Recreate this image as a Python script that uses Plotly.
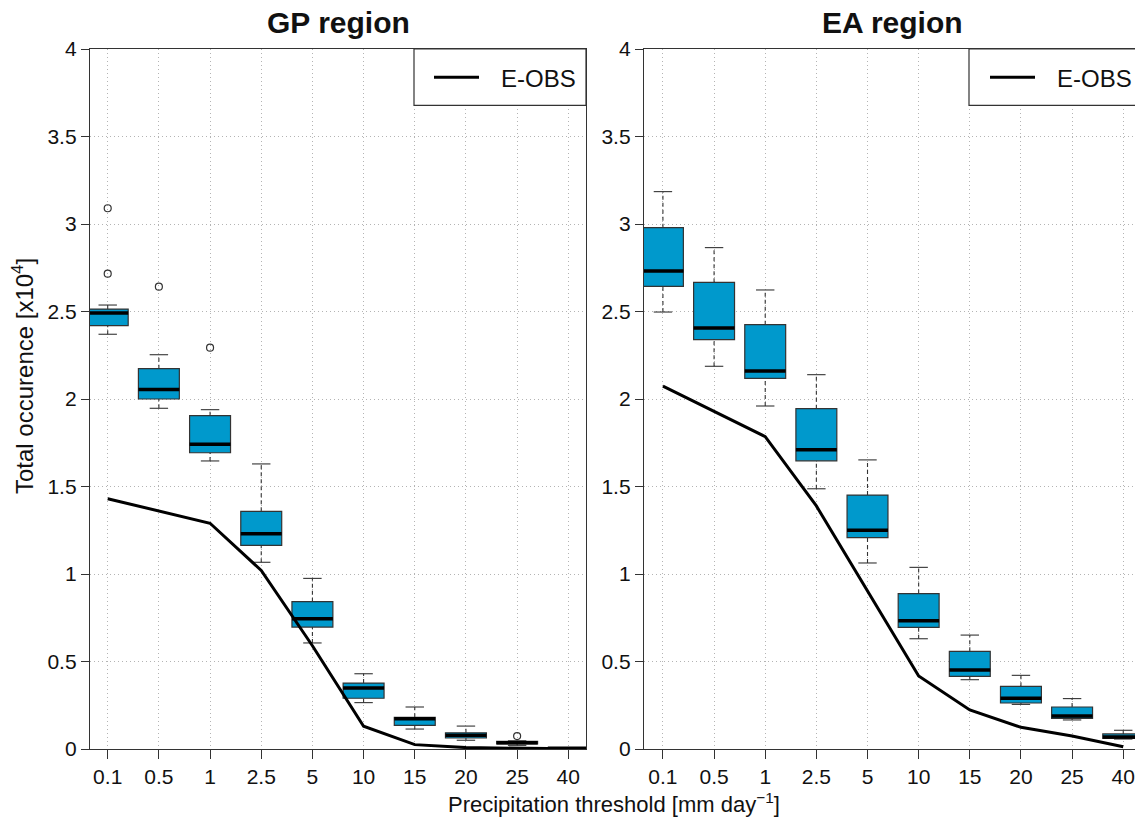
import plotly.graph_objects as go

thresholds = ["0.1", "0.5", "1", "2.5", "5", "10", "15", "20", "25", "40"]

# GP region (values x10^4)
gp_lower = [2.370, 1.947, 1.646, 1.067, 0.606, 0.265, 0.114, 0.050, 0.021, 0.002]
gp_q1 = [2.419, 2.000, 1.693, 1.164, 0.697, 0.290, 0.135, 0.063, 0.029, 0.003]
gp_med = [2.491, 2.055, 1.741, 1.230, 0.745, 0.349, 0.173, 0.078, 0.036, 0.004]
gp_q3 = [2.514, 2.173, 1.905, 1.358, 0.842, 0.377, 0.181, 0.093, 0.044, 0.005]
gp_upper = [2.537, 2.253, 1.939, 1.629, 0.975, 0.430, 0.240, 0.131, 0.047, 0.007]
gp_out_cat = ["0.1", "0.1", "0.5", "1", "25"]
gp_out_val = [3.090, 2.716, 2.642, 2.293, 0.074]
gp_eobs = [1.430, 1.360, 1.290, 1.020, 0.590, 0.130, 0.025, 0.008, 0.003, 0.001]

# EA region (values x10^4)
ea_lower = [2.497, 2.187, 1.960, 1.487, 1.063, 0.630, 0.396, 0.255, 0.166, 0.057]
ea_q1 = [2.644, 2.339, 2.118, 1.647, 1.208, 0.695, 0.415, 0.263, 0.175, 0.061]
ea_med = [2.731, 2.406, 2.160, 1.710, 1.250, 0.733, 0.451, 0.290, 0.189, 0.069]
ea_q3 = [2.979, 2.667, 2.425, 1.945, 1.451, 0.888, 0.558, 0.358, 0.240, 0.086]
ea_upper = [3.185, 2.865, 2.623, 2.139, 1.652, 1.038, 0.651, 0.421, 0.288, 0.107]
ea_out_cat = []
ea_out_val = []
ea_eobs = [2.074, 1.930, 1.785, 1.389, 0.900, 0.417, 0.223, 0.124, 0.074, 0.013]

BOX_FILL = "#0099CC"
EDGE = "#333333"
TXT = "#111111"
FONT = "Liberation Sans, Arial, sans-serif"
BW = 0.8      # box width (category units)
CAP = 0.18    # half width of whisker caps

fig = go.Figure()


def add_panel(lower, q1, med, q3, upper, out_cat, out_val, eobs, xa, ya):
    pos = list(range(len(thresholds)))
    fig.add_trace(go.Box(
        x=pos, q1=q1, median=med, q3=q3, lowerfence=q1, upperfence=q3,
        width=BW, fillcolor=BOX_FILL, line=dict(color=EDGE, width=1.2),
        whiskerwidth=0, boxpoints=False, showlegend=False,
        xaxis=xa, yaxis=ya, hoverinfo="skip"))
    # dashed whiskers
    wx, wy = [], []
    for p, lo, a, b, hi in zip(pos, lower, q1, q3, upper):
        wx += [p, p, None, p, p, None]
        wy += [b, hi, None, lo, a, None]
    fig.add_trace(go.Scatter(x=wx, y=wy, mode="lines",
                             line=dict(color=EDGE, width=1.1, dash="4px,3px"),
                             showlegend=False, xaxis=xa, yaxis=ya, hoverinfo="skip"))
    # caps
    cx, cy = [], []
    for p, lo, hi in zip(pos, lower, upper):
        cx += [p - CAP, p + CAP, None, p - CAP, p + CAP, None]
        cy += [hi, hi, None, lo, lo, None]
    fig.add_trace(go.Scatter(x=cx, y=cy, mode="lines",
                             line=dict(color=EDGE, width=1.1),
                             showlegend=False, xaxis=xa, yaxis=ya, hoverinfo="skip"))
    # thick medians
    mx, my = [], []
    for p, m in zip(pos, med):
        mx += [p - BW / 2, p + BW / 2, None]
        my += [m, m, None]
    fig.add_trace(go.Scatter(x=mx, y=my, mode="lines",
                             line=dict(color="#000000", width=3.5),
                             showlegend=False, xaxis=xa, yaxis=ya, hoverinfo="skip"))
    # outliers
    if out_cat:
        fig.add_trace(go.Scatter(
            x=[thresholds.index(c) for c in out_cat], y=out_val, mode="markers",
            marker=dict(symbol="circle-open", size=7, color=EDGE, line=dict(width=1.2)),
            showlegend=False, xaxis=xa, yaxis=ya, hoverinfo="skip"))
    # E-OBS line
    fig.add_trace(go.Scatter(x=pos, y=eobs, mode="lines", name="E-OBS",
                             line=dict(color="#000000", width=3),
                             showlegend=False, xaxis=xa, yaxis=ya))


add_panel(gp_lower, gp_q1, gp_med, gp_q3, gp_upper, gp_out_cat, gp_out_val, gp_eobs, "x", "y")
add_panel(ea_lower, ea_q1, ea_med, ea_q3, ea_upper, ea_out_cat, ea_out_val, ea_eobs, "x2", "y2")

W, H = 1135, 818
L, R, T, B = 90, 0, 49, 69
PW, PH = W - L - R, H - T - B


def px(x):
    return (x - L) / PW


def py(y):
    return (H - B - y) / PH


GRID = dict(showgrid=True, gridcolor="#b4b4b4", griddash="1px,3px", gridwidth=1)

common_x = dict(
    tickmode="array", tickvals=list(range(len(thresholds))), ticktext=thresholds,
    showline=True, linecolor=EDGE, linewidth=1.3, mirror=True,
    ticks="outside", ticklen=9, tickcolor=EDGE, tickwidth=1.2,
    zeroline=False, tickfont=dict(family=FONT, size=21, color=TXT), **GRID,
)
common_y = dict(
    range=[0, 4], tickmode="linear", tick0=0, dtick=0.5,
    showline=True, linecolor=EDGE, linewidth=1.3,
    ticks="outside", ticklen=8, tickcolor=EDGE, tickwidth=1.2,
    zeroline=False, tickfont=dict(family=FONT, size=21, color=TXT), **GRID,
)

fig.update_layout(
    width=W, height=H,
    margin=dict(l=L, r=R, t=T, b=B),
    paper_bgcolor="white", plot_bgcolor="white",
    showlegend=False,
    xaxis=dict(common_x, domain=[0, px(586)], range=[-0.346, 9.346], anchor="y"),
    yaxis=dict(common_y, domain=[0, 1], mirror=True, anchor="x"),
    xaxis2=dict(common_x, domain=[px(644), 1], range=[-0.37, 9.23], anchor="y2"),
    yaxis2=dict(common_y, domain=[0, 1], mirror=False, anchor="x2"),
)

shapes = []
annotations = []
for bx0, lx0, lx1, tx in [(414, 434, 479, 499), (969, 990, 1035, 1055)]:
    shapes.append(dict(type="rect", xref="paper", yref="paper",
                       x0=px(bx0), x1=px(min(bx0 + 172, 1150)), y0=py(105.3), y1=1,
                       line=dict(color=EDGE, width=1.2), fillcolor="white", layer="above"))
    shapes.append(dict(type="line", xref="paper", yref="paper",
                       x0=px(lx0), x1=px(lx1), y0=py(77.3), y1=py(77.3),
                       line=dict(color="#000000", width=3), layer="above"))
    annotations.append(dict(text="E-OBS", xref="paper", yref="paper",
                            x=px(tx), y=py(78), xanchor="left", yanchor="middle",
                            showarrow=False, font=dict(family=FONT, size=24, color=TXT)))

annotations += [
    dict(text="<b>GP region</b>", xref="paper", yref="paper", x=px(338), y=py(22),
         xanchor="center", yanchor="middle", showarrow=False,
         font=dict(family=FONT, size=30, color=TXT)),
    dict(text="<b>EA region</b>", xref="paper", yref="paper", x=px(892), y=py(22),
         xanchor="center", yanchor="middle", showarrow=False,
         font=dict(family=FONT, size=30, color=TXT)),
    dict(text="Total occurence [x10<sup>4</sup>]", xref="paper", yref="paper",
         x=px(23), y=py(376), xanchor="center", yanchor="middle", textangle=-90,
         showarrow=False, font=dict(family=FONT, size=24, color=TXT)),
    dict(text="Precipitation threshold [mm day<sup>\u22121</sup>]", xref="paper", yref="paper",
         x=px(614), y=py(803), xanchor="center", yanchor="middle",
         showarrow=False, font=dict(family=FONT, size=22, color=TXT)),
]

fig.update_layout(shapes=shapes, annotations=annotations)
fig.write_html("out.html")
